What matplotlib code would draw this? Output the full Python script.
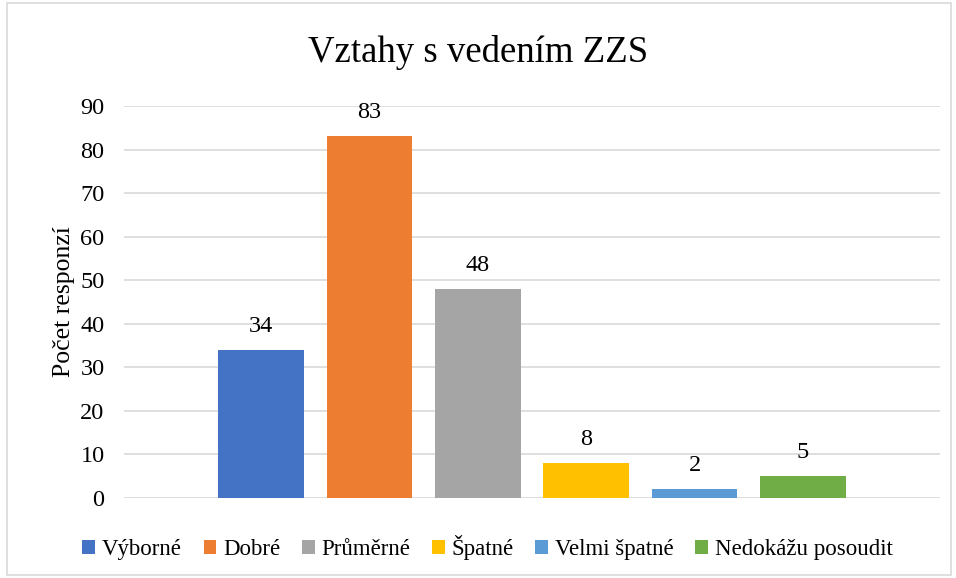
import matplotlib.pyplot as plt
from matplotlib.patches import Rectangle

categories = ["Výborné", "Dobré", "Průměrné", "Špatné", "Velmi špatné", "Nedokážu posoudit"]
values = [34, 83, 48, 8, 2, 5]
colors = ["#4472C4", "#ED7D31", "#A5A5A5", "#FFC000", "#5B9BD5", "#70AD47"]

plt.rcParams['font.family'] = ['Liberation Serif', 'DejaVu Serif']

fig = plt.figure(figsize=(9.56, 5.78), dpi=100)
ax = fig.add_axes([0.1297, 0.1384, 0.8536, 0.6782])

for i, (cat, val, col) in enumerate(zip(categories, values, colors)):
    ax.bar(i, val, width=0.79, color=col, label=cat, zorder=3)
    ax.text(i, val + 3, str(val), ha='center', va='bottom', fontsize=17.5)

ax.set_xlim(-1.263, 6.263)
ax.set_ylim(0, 90)
ax.set_yticks(range(0, 91, 10))
ax.set_xticks([])
ax.grid(True, axis='y', color='#D9D9D9', linewidth=1.2, zorder=0)
for s in ax.spines.values():
    s.set_visible(False)
ax.tick_params(axis='y', length=0, labelsize=17.5, pad=14)
ax.set_ylabel("Počet responzí", fontsize=18.5, labelpad=4)

fig.suptitle("Vztahy s vedením ZZS", fontsize=26.5, y=0.91, va='center')

fig.legend(loc='center', bbox_to_anchor=(0.51, 0.052), ncol=6, frameon=False,
           fontsize=16.5, handlelength=0.55, handleheight=0.55, handletextpad=0.3,
           columnspacing=0.95)

fig.patches.append(Rectangle((0.007, 0.005), 0.988, 0.99, transform=fig.transFigure,
                             fill=False, edgecolor='#D9D9D9', linewidth=1.2))

fig.savefig("out.png", dpi=100)
